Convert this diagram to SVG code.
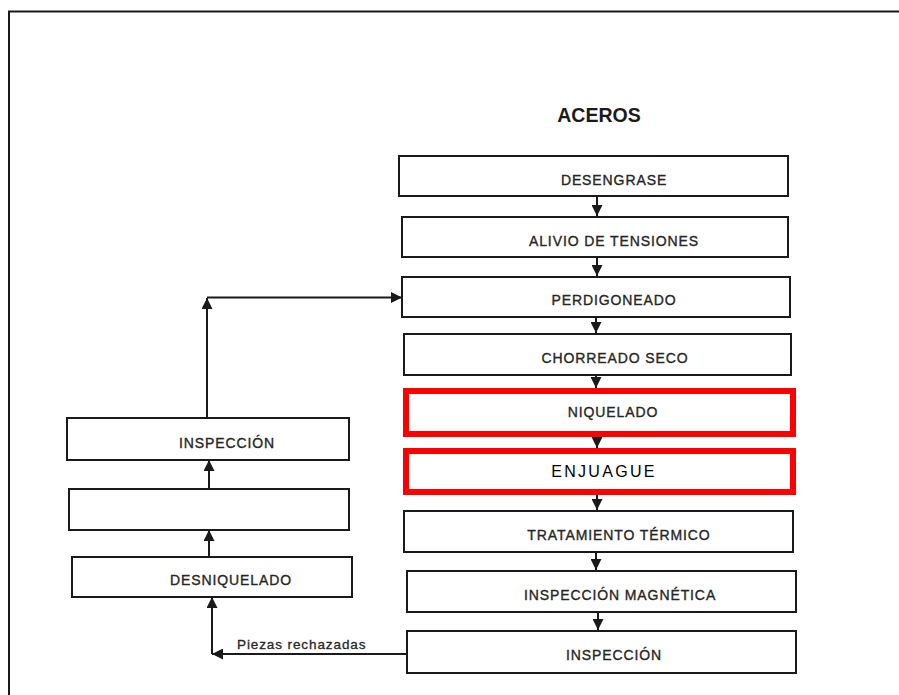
<svg xmlns="http://www.w3.org/2000/svg" width="899" height="695" viewBox="0 0 899 695">
  <style>
    .box { fill: #fff; stroke: #1a1a1a; stroke-width: 2; }
    .hl { fill: #fff; stroke: #ff0000; stroke-width: 6; }
    .lbl { font-family: "Liberation Sans", Arial, sans-serif; font-size: 14px; letter-spacing: 0.9px; fill: #262626; stroke: #262626; stroke-width: 0.35; text-anchor: middle; }
    .big { font-family: "Liberation Sans", Arial, sans-serif; font-size: 16px; letter-spacing: 2.3px; fill: #000; text-anchor: middle; }
    .title { font-family: "Liberation Sans", Arial, sans-serif; font-size: 19.5px; font-weight: bold; fill: #1a1a1a; text-anchor: middle; }
    .note { font-family: "Liberation Sans", Arial, sans-serif; font-size: 13.5px; letter-spacing: 0.9px; fill: #262626; stroke: #262626; stroke-width: 0.3; }
    .conn { fill: none; stroke: #1a1a1a; stroke-width: 2; marker-end: url(#head); }
  </style>
  <defs>
    <marker id="head" markerUnits="userSpaceOnUse" markerWidth="11" markerHeight="11" refX="11" refY="5.5" orient="auto">
      <path d="M0,0 L11,5.5 L0,11 z" fill="#1a1a1a"/>
    </marker>
  </defs>

  <rect width="899" height="695" fill="#fff"/>
  <!-- page frame -->
  <rect x="9" y="11.5" width="900" height="700" fill="none" stroke="#1a1a1a" stroke-width="2"/>

  <text class="title" x="599" y="122">ACEROS</text>

  <!-- main process column -->
  <g id="desengrase">
    <rect class="box" x="399" y="156" width="389" height="40"/>
    <text class="lbl" x="614" y="185">DESENGRASE</text>
  </g>
  <g id="alivio">
    <rect class="box" x="402" y="217" width="386" height="40"/>
    <text class="lbl" x="614" y="246">ALIVIO DE TENSIONES</text>
  </g>
  <g id="perdigoneado">
    <rect class="box" x="402" y="277" width="388" height="40"/>
    <text class="lbl" x="614" y="305">PERDIGONEADO</text>
  </g>
  <g id="chorreado">
    <rect class="box" x="404" y="334" width="387" height="41"/>
    <text class="lbl" x="615" y="363">CHORREADO SECO</text>
  </g>
  <g id="niquelado">
    <rect class="hl" x="406" y="391" width="387" height="43"/>
    <text class="lbl" x="613" y="417">NIQUELADO</text>
  </g>
  <g id="enjuague">
    <rect class="hl" x="406" y="451" width="387" height="41"/>
    <text class="big" x="604" y="477">ENJUAGUE</text>
  </g>
  <g id="tratamiento">
    <rect class="box" x="404" y="511" width="389" height="41"/>
    <text class="lbl" x="619" y="540">TRATAMIENTO TÉRMICO</text>
  </g>
  <g id="magnetica">
    <rect class="box" x="407" y="571" width="389" height="41"/>
    <text class="lbl" x="620" y="600">INSPECCIÓN MAGNÉTICA</text>
  </g>
  <g id="inspeccion">
    <rect class="box" x="407" y="631" width="389" height="42"/>
    <text class="lbl" x="614" y="660">INSPECCIÓN</text>
  </g>

  <!-- rework column -->
  <g id="inspeccion-rework">
    <rect class="box" x="67" y="418" width="282" height="42"/>
    <text class="lbl" x="227" y="448">INSPECCIÓN</text>
  </g>
  <g id="paso-vacio">
    <rect class="box" x="69" y="489" width="280" height="41"/>
  </g>
  <g id="desniquelado">
    <rect class="box" x="72" y="557" width="280" height="40"/>
    <text class="lbl" x="231" y="585">DESNIQUELADO</text>
  </g>

  <g id="connectors">
    <path class="conn" d="M597,197 V216"/>
    <path class="conn" d="M597,257 V276"/>
    <path class="conn" d="M596,317 V333"/>
    <path class="conn" d="M596,375 V388"/>
    <path class="conn" d="M597,437 V448"/>
    <path class="conn" d="M597,495 V510"/>
    <path class="conn" d="M596,552 V570"/>
    <path class="conn" d="M598,612 V630"/>

    <path class="conn" d="M207,418 V298"/>
    <path class="conn" d="M207,297.5 H402"/>
    <path class="conn" d="M209,489 V460"/>
    <path class="conn" d="M209,557 V530"/>
    <path class="conn" d="M407,654 H212"/>
    <path class="conn" d="M212,654 V597"/>
    <text class="note" x="237" y="649">Piezas rechazadas</text>
  </g>
</svg>
